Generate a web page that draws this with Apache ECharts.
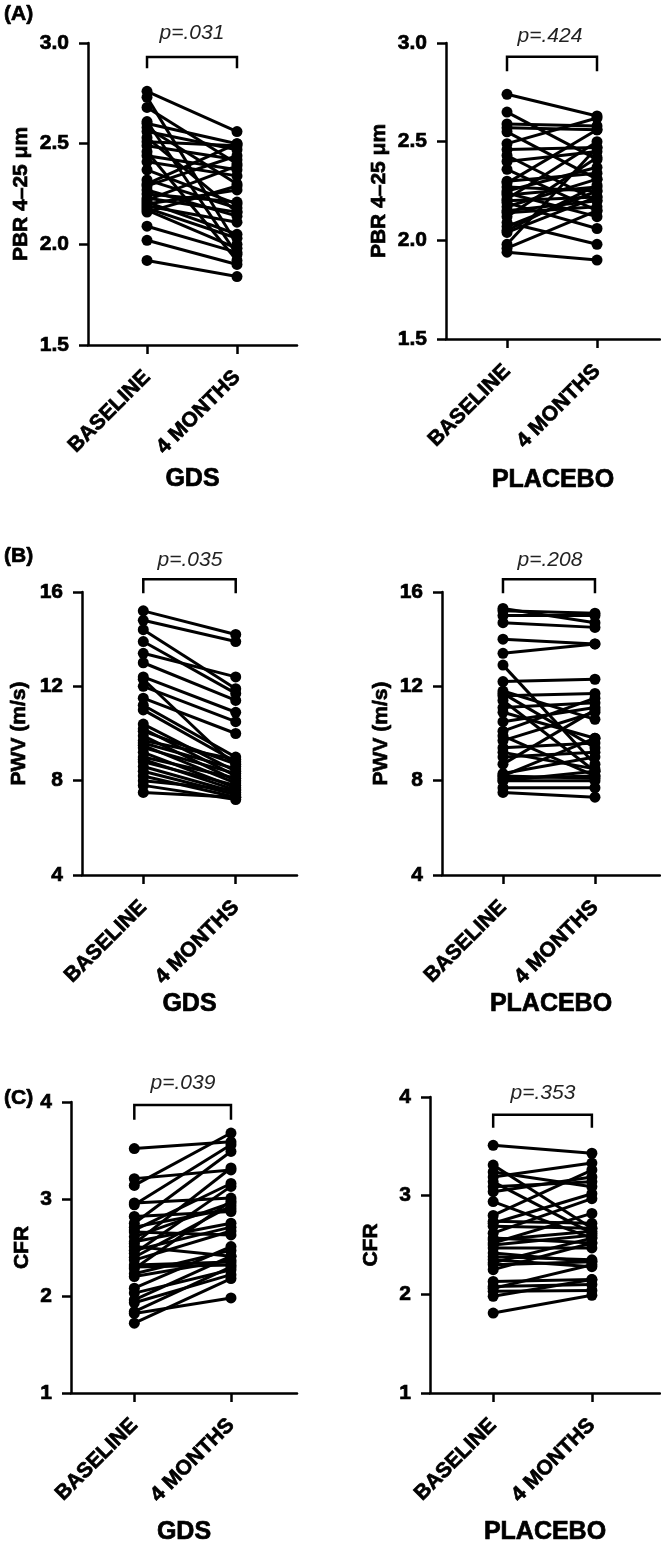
<!DOCTYPE html>
<html>
<head>
<meta charset="utf-8">
<script src="https://cdn.jsdelivr.net/npm/echarts@6/dist/echarts.min.js"></script>
<style>
html, body { margin: 0; padding: 0; background: #fff; }
#main { width: 661px; height: 1544px; }
</style>
</head>
<body>
<div id="main"></div>
<script>
var myChart = echarts.init(document.getElementById('main'));

var timeLabels = ['BASELINE', '4 MONTHS'];
var groupNames = ['GDS', 'PLACEBO'];
var panelLetters = ['(A)', '(B)', '(C)'];
var pValues = ['p=.031', 'p=.424', 'p=.035', 'p=.208', 'p=.039', 'p=.353'];

// PBR 4-25 um
var pbrGdsBaseline = [2.76, 2.73, 2.68, 2.61, 2.60, 2.58, 2.56, 2.53, 2.51, 2.49, 2.46, 2.44, 2.41, 2.37, 2.32, 2.30, 2.29, 2.27, 2.25, 2.23, 2.22, 2.21, 2.20, 2.19, 2.18, 2.17, 2.16, 2.09, 2.02, 1.92];
var pbrGdsMonth4 = [2.56, 2.00, 2.40, 1.95, 2.50, 2.30, 2.47, 2.16, 2.49, 2.42, 1.92, 2.37, 2.34, 2.20, 2.18, 2.50, 2.44, 2.14, 2.21, 2.16, 2.39, 2.05, 2.27, 2.11, 2.03, 1.98, 2.29, 1.96, 1.90, 1.84];
var pbrPlaceboBaseline = [2.74, 2.65, 2.59, 2.57, 2.55, 2.49, 2.46, 2.43, 2.40, 2.36, 2.30, 2.29, 2.27, 2.25, 2.24, 2.23, 2.21, 2.20, 2.19, 2.17, 2.15, 2.14, 2.12, 2.09, 2.07, 2.05, 2.04, 1.98, 1.96, 1.94];
var pbrPlaceboMonth4 = [2.63, 2.41, 2.58, 2.56, 2.31, 2.62, 2.47, 2.20, 2.45, 2.15, 2.34, 2.56, 2.25, 2.37, 2.12, 2.27, 2.50, 2.22, 2.06, 2.31, 2.20, 2.17, 2.42, 1.98, 2.25, 2.28, 2.22, 2.47, 2.15, 1.90];

// PWV (m/s)
var pwvGdsBaseline = [15.2, 14.8, 14.4, 13.9, 13.4, 13.0, 12.4, 12.3, 12.0, 11.5, 11.2, 11.0, 10.4, 10.2, 10.1, 9.9, 9.7, 9.6, 9.5, 9.4, 9.2, 9.0, 8.9, 8.8, 8.6, 8.4, 8.2, 8.0, 7.8, 7.5];
var pwvGdsMonth4 = [14.2, 13.9, 11.9, 11.7, 12.4, 11.4, 10.9, 8.6, 10.5, 10.0, 9.0, 8.8, 8.4, 8.2, 8.7, 8.0, 8.9, 8.5, 7.9, 8.3, 7.7, 8.1, 7.6, 7.8, 7.5, 7.4, 7.3, 7.6, 7.2, 7.3];
var pwvPlaceboBaseline = [15.3, 15.2, 15.0, 14.7, 14.0, 13.4, 12.9, 12.2, 11.8, 11.7, 11.6, 11.4, 11.1, 10.9, 10.5, 10.1, 9.9, 9.7, 9.4, 9.2, 9.0, 8.7, 8.3, 8.2, 8.1, 8.0, 8.0, 8.2, 7.7, 7.5];
var pwvPlaceboMonth4 = [14.7, 15.1, 15.0, 14.5, 13.8, 13.8, 8.7, 12.3, 10.6, 9.4, 11.7, 8.4, 11.3, 9.8, 11.1, 11.5, 8.2, 10.9, 9.6, 8.5, 9.2, 11.0, 9.0, 8.1, 8.2, 8.4, 8.0, 9.8, 7.7, 7.3];

// CFR
var cfrGdsBaseline = [3.52, 3.21, 3.14, 2.96, 2.94, 2.82, 2.75, 2.71, 2.68, 2.66, 2.61, 2.56, 2.54, 2.51, 2.47, 2.44, 2.40, 2.37, 2.32, 2.30, 2.28, 2.23, 2.20, 2.08, 2.03, 1.96, 1.93, 1.84, 1.82, 1.72];
var cfrGdsMonth4 = [3.59, 3.30, 3.68, 3.01, 3.56, 2.87, 3.49, 2.90, 3.16, 2.63, 2.96, 2.75, 3.32, 2.41, 2.71, 3.13, 2.93, 2.67, 2.35, 2.32, 2.98, 2.47, 2.37, 2.51, 2.27, 2.41, 2.22, 2.30, 1.98, 2.18];
var cfrPlaceboBaseline = [3.51, 3.31, 3.24, 3.19, 3.14, 3.09, 3.04, 2.94, 2.80, 2.74, 2.72, 2.69, 2.62, 2.57, 2.55, 2.52, 2.50, 2.47, 2.42, 2.38, 2.35, 2.32, 2.30, 2.25, 2.13, 2.08, 2.06, 2.03, 1.98, 1.81];
var cfrPlaceboMonth4 = [3.43, 2.67, 3.09, 3.33, 2.62, 3.14, 3.19, 2.57, 3.26, 2.72, 3.02, 2.67, 2.97, 2.52, 2.64, 2.82, 2.60, 2.47, 2.33, 2.35, 2.28, 2.57, 2.33, 2.52, 2.15, 2.10, 2.30, 2.04, 2.15, 1.99];

var FONT = '"Liberation Sans", Arial, sans-serif';

// layout per panel (pixels) + axis setup
var panels = [
    { base: pbrGdsBaseline, m4: pbrGdsMonth4, group: 0, yName: 'PBR 4\u201325 \u03bcm', min: 1.5, max: 3, interval: 0.5, digits: 1,
      left: 88, top: 43, width: 209, height: 302, xMin: -0.656, xMax: 1.667, bracket: [2.881, 2.93], nameGap: 122, yNameGap: 56, pPos: [192, 33] },
    { base: pbrPlaceboBaseline, m4: pbrPlaceboMonth4, group: 1, yName: 'PBR 4\u201325 \u03bcm', min: 1.5, max: 3, interval: 0.5, digits: 1,
      left: 446, top: 43, width: 214, height: 296, xMin: -0.678, xMax: 1.7, bracket: [2.863, 2.93], nameGap: 129, yNameGap: 56, pPos: [550, 36] },
    { base: pwvGdsBaseline, m4: pwvGdsMonth4, group: 0, yName: 'PWV (m/s)', min: 4, max: 16, interval: 4, digits: 0,
      left: 82, top: 592, width: 215, height: 283, xMin: -0.663, xMax: 1.663, bracket: [16.0, 16.54], nameGap: 116, yNameGap: 52, pPos: [190, 560] },
    { base: pwvPlaceboBaseline, m4: pwvPlaceboMonth4, group: 1, yName: 'PWV (m/s)', min: 4, max: 16, interval: 4, digits: 0,
      left: 442, top: 592, width: 218, height: 283, xMin: -0.663, xMax: 1.707, bracket: [16.0, 16.54], nameGap: 116, yNameGap: 50, pPos: [550, 560] },
    { base: cfrGdsBaseline, m4: cfrGdsMonth4, group: 0, yName: 'CFR', min: 1, max: 4, interval: 1, digits: 0,
      left: 71, top: 1102, width: 226, height: 291, xMin: -0.655, xMax: 1.683, bracket: [3.83, 3.97], nameGap: 127, yNameGap: 38, pPos: [183, 1083] },
    { base: cfrPlaceboBaseline, m4: cfrPlaceboMonth4, group: 1, yName: 'CFR', min: 1, max: 4, interval: 1, digits: 0,
      left: 430, top: 1097, width: 230, height: 296, xMin: -0.64, xMax: 1.69, bracket: [3.70, 3.82], nameGap: 127, yNameGap: 48, pPos: [543, 1093] }
];

var axisLineStyle = { color: '#000', width: 2.5 };
var heavy = { textBorderColor: '#000', textBorderWidth: 0.7 };
var grids = [], xAxes = [], yAxes = [], series = [], graphics = [];

panels.forEach(function (p, i) {
    grids.push({ left: p.left, top: p.top, width: p.width, height: p.height, containLabel: false, outerBoundsMode: 'none' });
    xAxes.push({
        gridIndex: i, type: 'value', min: p.xMin, max: p.xMax,
        axisLine: { show: true, onZero: false, lineStyle: axisLineStyle },
        axisTick: { show: true, customValues: [0, 1], length: 9, lineStyle: axisLineStyle },
        axisLabel: Object.assign({
            customValues: [0, 1], rotate: 45, margin: 29, color: '#000',
            fontFamily: FONT, fontWeight: 'bold', fontSize: 21,
            formatter: function (v) { return timeLabels[Math.round(v)]; }
        }, heavy),
        splitLine: { show: false },
        name: groupNames[p.group], nameLocation: 'middle', nameGap: p.nameGap,
        nameTextStyle: Object.assign({ color: '#000', fontFamily: FONT, fontWeight: 'bold', fontSize: 25 }, heavy)
    });
    yAxes.push({
        gridIndex: i, type: 'value', min: p.min, max: p.max, interval: p.interval,
        axisLine: { show: true, onZero: false, lineStyle: axisLineStyle },
        axisTick: { show: true, length: 9, lineStyle: axisLineStyle },
        axisLabel: Object.assign({
            margin: 19, color: '#000', fontFamily: FONT, fontWeight: 'bold', fontSize: 21,
            formatter: function (v) { return v.toFixed(p.digits); }
        }, heavy),
        splitLine: { show: false },
        name: p.yName, nameLocation: 'middle', nameGap: p.yNameGap,
        nameTextStyle: Object.assign({ color: '#000', fontFamily: FONT, fontWeight: 'bold', fontSize: 21 }, heavy)
    });

    for (var k = 0; k < p.base.length; k++) {
        series.push({
            type: 'line', xAxisIndex: i, yAxisIndex: i, silent: true,
            data: [[0, p.base[k]], [1, p.m4[k]]],
            symbol: 'circle', symbolSize: 11,
            itemStyle: { color: '#000' },
            lineStyle: { color: '#000', width: 3 }
        });
    }
    // significance bracket
    series.push({
        type: 'line', xAxisIndex: i, yAxisIndex: i, silent: true, clip: false,
        data: [[0, p.bracket[0]], [0, p.bracket[1]], [1, p.bracket[1]], [1, p.bracket[0]]],
        symbol: 'none',
        lineStyle: { color: '#000', width: 2.5, cap: 'square', join: 'miter' }
    });
    graphics.push({
        type: 'text', x: p.pPos[0], y: p.pPos[1],
        style: { text: pValues[i], align: 'center', verticalAlign: 'middle', fill: '#222',
                 font: 'italic 21px ' + FONT }
    });
});

var letterTops = [14, 556, 1098];
panelLetters.forEach(function (t, r) {
    graphics.push({
        type: 'text', x: 4, y: letterTops[r],
        style: { text: t, align: 'left', verticalAlign: 'middle', fill: '#000',
                 font: 'bold 21px ' + FONT, stroke: '#000', lineWidth: 0.7 }
    });
});

var option = {
    backgroundColor: '#fff',
    animation: false,
    grid: grids,
    xAxis: xAxes,
    yAxis: yAxes,
    series: series,
    graphic: graphics
};

myChart.setOption(option);
</script>
</body>
</html>
